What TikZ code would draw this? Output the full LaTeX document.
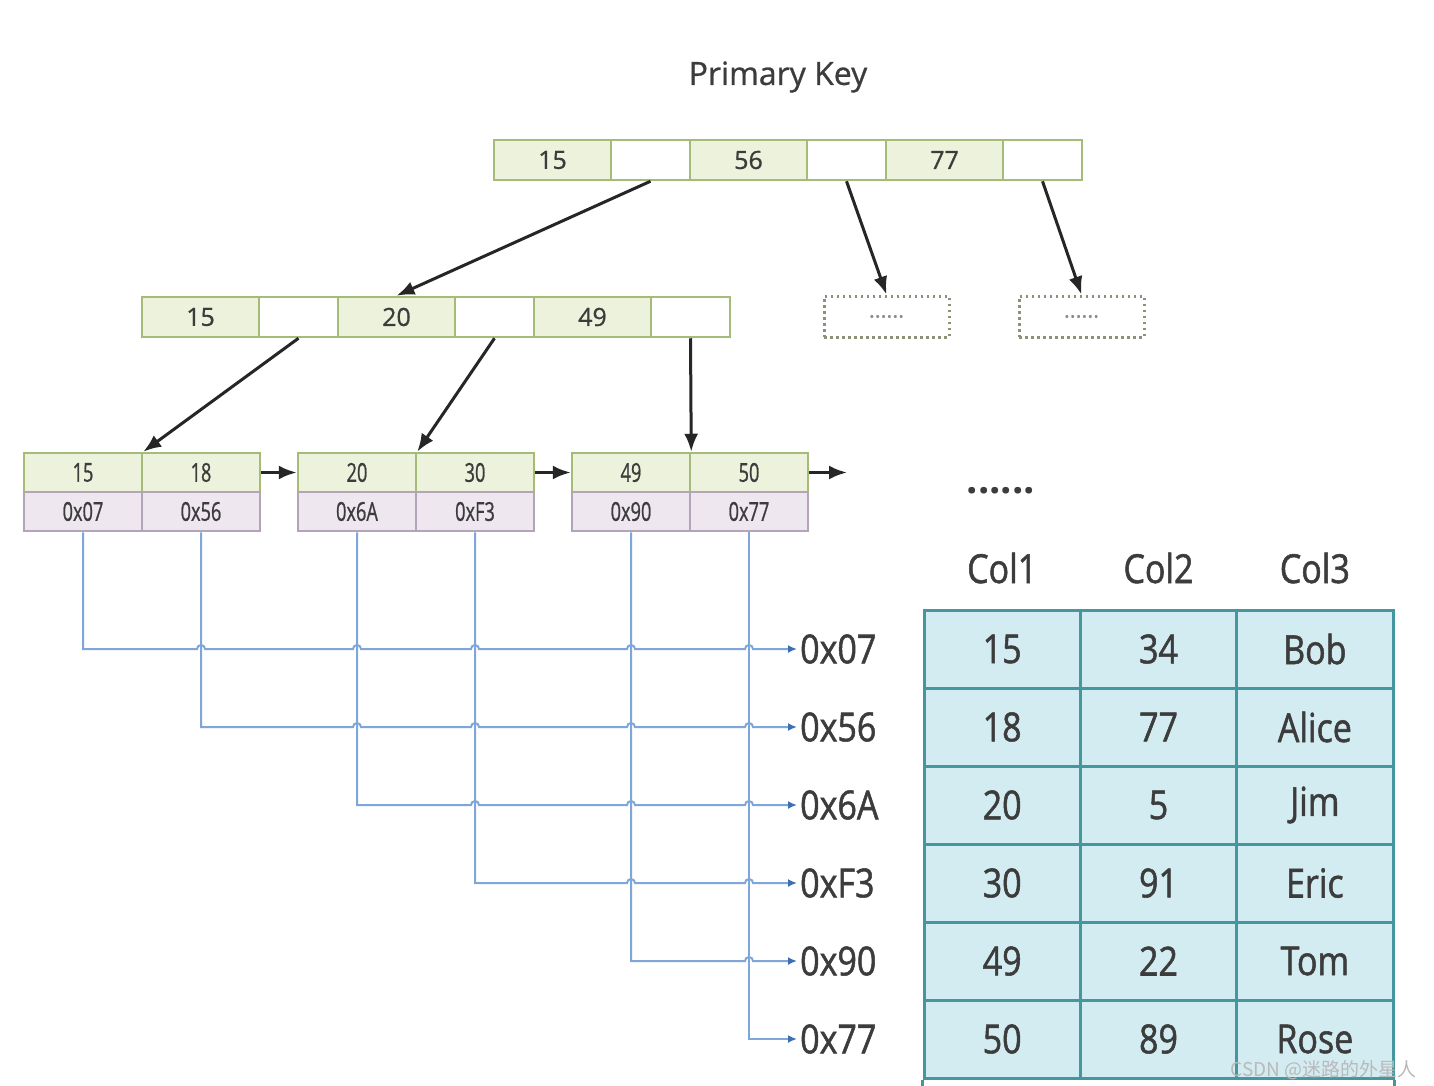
\documentclass[tikz,border=0pt]{standalone}
\usepackage{fontspec}
\setmainfont{Open Sans}
\newfontfamily\normale[FakeBold=0.8]{Open Sans}
\newfontfamily\etroit[FakeStretch=0.7,FakeBold=0.8]{Open Sans}
\newfontfamily\moyen[FakeStretch=0.85,FakeBold=1.3]{Open Sans}
\newfontfamily\cjk{Noto Sans CJK SC}
\usetikzlibrary{arrows.meta}
\definecolor{vertfond}{HTML}{EDF2DC}
\definecolor{vertbord}{HTML}{A5BC78}
\definecolor{rosefond}{HTML}{EFE7F0}
\definecolor{rosebord}{HTML}{B3A5B8}
\definecolor{tabfond}{HTML}{D3ECF2}
\definecolor{tabbord}{HTML}{45979F}
\definecolor{bleulien}{HTML}{7EA6D8}
\definecolor{bleupointe}{HTML}{3D6FB5}
\definecolor{pointbord}{HTML}{8E9078}
\definecolor{texte}{HTML}{3C3C3C}

\begin{document}
\begin{tikzpicture}[x=1pt,y=-1pt]
			\tikzstyle{cellule}=[draw,line width=2.5pt,minimum height=40pt,inner sep=0pt,text=texte,font=\normale\fontsize{25}{28}\selectfont]
			\tikzstyle{cle}=[cellule,draw=vertbord,fill=vertfond,minimum width=117pt]
			\tikzstyle{pointeur}=[cellule,draw=vertbord,fill=white,minimum width=79pt]
			\tikzstyle{feuille}=[cellule,draw=vertbord,fill=vertfond,minimum width=118pt,minimum height=39pt,font=\etroit\fontsize{26}{28}\selectfont]
			\tikzstyle{adresse}=[feuille,draw=rosebord,fill=rosefond]
			\tikzstyle{pointille}=[draw=pointbord,dash pattern=on 2.5pt off 3.5pt,line width=3pt,fill=white,minimum width=125pt,minimum height=41pt,text=gray!90,font=\normale\fontsize{22}{22}\selectfont]
			\tikzstyle{case}=[draw=tabbord,fill=tabfond,line width=3pt,minimum width=156.33pt,minimum height=78pt,inner sep=0pt,text=texte,font=\moyen\fontsize{40}{44}\selectfont]
			\tikzstyle{entete}=[text=texte,font=\moyen\fontsize{40}{44}\selectfont]
			\tikzstyle{etiquette}=[anchor=west,inner sep=3pt,text=texte,font=\moyen\fontsize{40}{44}\selectfont]
			\tikzstyle{fleche}=[->,>={Latex[length=18pt,width=14pt]},line width=3pt,draw=black!85]
			\tikzstyle{lien}=[->,>={Latex[length=9pt,width=8pt,color=bleupointe]},line width=2pt,draw=bleulien]
			\def\LargeurCle{117}
			\def\LargeurPaire{196}
			\useasboundingbox (0,0) rectangle (1434,1086);
			\fill[white] (0,0) rectangle (1434,1086);
			\node[text=texte,font=\normale\fontsize{32}{36}\selectfont] (titre) at (778,77) {Primary Key};
			% racine
			\foreach \k [count=\i] in {15,56,77} {
				\node[cle] (r\i) at ({494+\LargeurPaire*(\i-1)+58.5},160) {\k};
				\node[pointeur] (rp\i) at ({494+\LargeurPaire*(\i-1)+\LargeurCle+39.5},160) {};
			}
			% niveau intermediaire
			\foreach \k [count=\i] in {15,20,49} {
				\node[cle] (m\i) at ({142+\LargeurPaire*(\i-1)+58.5},317) {\k};
				\node[pointeur] (mp\i) at ({142+\LargeurPaire*(\i-1)+\LargeurCle+39.5},317) {};
			}
			\node[pointille] (d1) at (886.5,316.5) {......};
			\node[pointille] (d2) at (1081.5,316.5) {......};
			% feuilles
			\foreach \k/\ad/\x [count=\i] in {15/0x07/83,18/0x56/201,20/0x6A/357,30/0xF3/475,49/0x90/631,50/0x77/749} {
				\node[feuille] (k\i) at (\x,472.5) {\k};
				\node[adresse] (a\i) at (\x,511.5) {\ad};
			}
			\coordinate (suite) at (847,472.5);
			\node[anchor=base,text=texte,font=\bfseries\fontsize{40}{40}\selectfont] (etc) at (1001,493) {......};
			\draw[fleche] (rp1.south)--(m2.north);
			\draw[fleche] (rp2.south)--(d1.north);
			\draw[fleche] (rp3.south)--(d2.north);
			\draw[fleche] (mp1.south)--(k1.north east);
			\draw[fleche] (mp2.south)--(k3.north east);
			\draw[fleche] (mp3.south)--(k5.north east);
			\draw[fleche] (k2.east)--(k3.west);
			\draw[fleche] (k4.east)--(k5.west);
			\draw[fleche] (k6.east)--(suite);
			% adresses
			\foreach \t [count=\i] in {0x07,0x56,0x6A,0xF3,0x90,0x77}
				\node[etiquette] (l\i) at (797,{649+78*(\i-1)}) {\t};
			\foreach \i/\sauts in {1/{2,3,4,5,6},2/{3,4,5,6},3/{4,5,6},4/{5,6},5/{6}} {
				\draw[lien] (a\i.south) -- (a\i.south |- l\i.west)
					\foreach \j in \sauts { -- ([xshift=-4pt]a\j.south |- l\i.west) arc[start angle=180,end angle=360,radius=4] }
					-- (l\i.west);
			}
			\draw[lien] (a6.south) |- (l6.west);
			% table
			\foreach \c/\n in {1/Col1,2/Col2,3/Col3}
				\node[entete] (h\c) at ({924+156.33*(\c-1)+78.17},568) {\n};
			\foreach \a/\b/\n [count=\r] in {15/34/Bob,18/77/Alice,20/5/Jim,30/91/Eric,49/22/Tom,50/89/Rose} {
				\node[case] (t\r1) at ({924+78.17},{610+78*(\r-1)+39}) {\a};
				\node[case] (t\r2) at ({924+156.33+78.17},{610+78*(\r-1)+39}) {\b};
				\node[case] (t\r3) at ({924+312.67+78.17},{610+78*(\r-1)+39}) {\n};
			}
			\draw[tabbord,line width=3pt] (t61.south west) -- ++(0,10);
			\draw[tabbord,line width=3pt] (t63.south east) -- ++(0,10);
			\node[anchor=east,text=gray!55,font=\cjk\fontsize{19}{22}\selectfont] (filigrane) at (1420,1070) {CSDN @迷路的外星人};
		\end{tikzpicture}
\end{document}
